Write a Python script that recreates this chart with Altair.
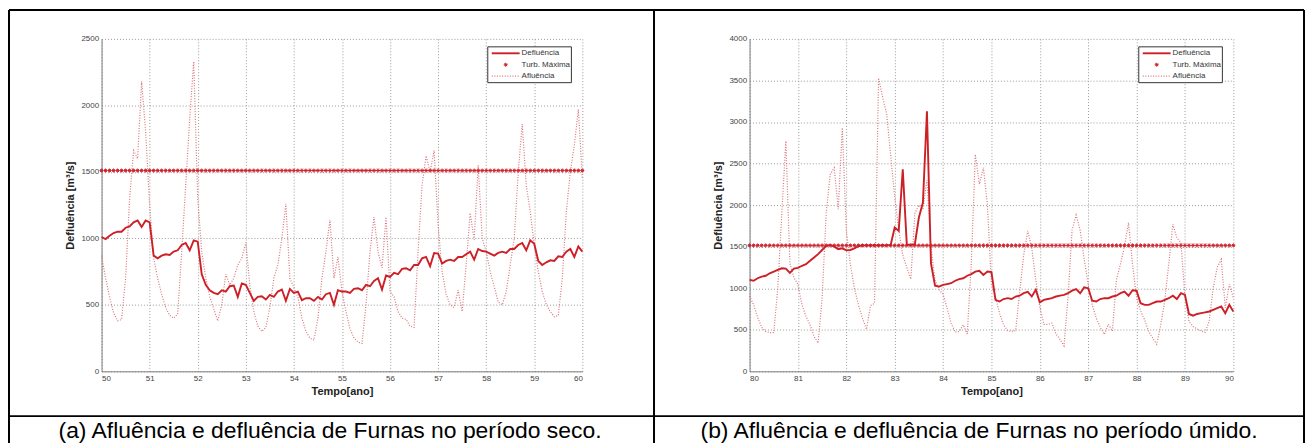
import altair as alt
import pandas as pd

# ---------------- data (monthly samples) ----------------
start_a = 50
defl_a = [1010, 995, 1020, 1040, 1050, 1050, 1080, 1090, 1120, 1135, 1085, 1135, 1120,
          870, 850, 870, 880, 875, 900, 910, 950, 965, 910, 985, 975,
          730, 650, 610, 590, 580, 610, 600, 640, 645, 560, 660, 650,
          590, 530, 560, 565, 540, 575, 560, 600, 615, 530, 620, 590,
          600, 535, 550, 550, 530, 560, 540, 580, 590, 500, 610, 600,
          600, 590, 620, 625, 610, 650, 640, 680, 700, 615, 720, 710,
          740, 730, 770, 775, 760, 800, 800, 850, 860, 790, 890, 885,
          810, 830, 840, 830, 860, 860, 880, 900, 840, 920, 905, 900,
          885, 870, 890, 900, 890, 920, 920, 950, 965, 910, 985, 960,
          830, 800, 820, 835, 830, 865, 860, 900, 920, 860, 940, 900]
aflu_a = [870, 700, 560, 440, 380, 390, 700, 1300, 1660, 1600, 2180, 1800, 1250,
          850, 700, 580, 480, 420, 400, 430, 900, 1400, 1900, 2330, 1300,
          900, 700, 560, 470, 380, 500, 730, 650, 700, 800, 850, 970,
          650, 450, 340, 300, 330, 480, 700, 800, 1000, 1260, 700, 630,
          560, 400, 300, 250, 235, 400, 700, 900, 1140, 700, 860, 600,
          450, 320, 250, 220, 210, 500, 900, 1160, 900, 780, 1160, 600,
          560, 450, 400, 390, 340, 330, 900, 1400, 1620, 1500, 1660, 1100,
          750, 580, 500, 480, 610, 450, 800, 1190, 990, 1550, 1000, 900,
          750, 640, 520, 500, 600, 800, 1000, 1500, 1860, 1400, 1200, 950,
          750, 600, 500, 450, 410, 420, 700, 1200, 1500, 1700, 1970, 1450]
turb_a = 1510

start_b = 80
defl_b = [1100, 1090, 1120, 1140, 1150, 1180, 1200, 1220, 1240, 1235, 1185, 1235, 1245,
          1270, 1290, 1330, 1370, 1410, 1460, 1510, 1520, 1500, 1470, 1480, 1455,
          1460, 1480, 1505, 1515, 1515, 1515, 1515, 1515, 1515, 1515, 1520, 1730,
          1690, 2430, 1525, 1525, 1530, 1850, 2030, 3130, 1300, 1030, 1020, 1040,
          1050, 1060, 1090, 1110, 1120, 1150, 1170, 1200, 1210, 1160, 1200, 1195,
          860, 840, 870, 880, 870, 900, 910, 940, 955, 900, 980, 830,
          860, 870, 880, 900, 910, 920, 940, 970, 990, 940, 1010, 1000,
          850, 840, 870, 880, 880, 900, 910, 940, 960, 910, 975, 970,
          820, 800, 800, 820, 840, 840, 860, 880, 910, 870, 940, 920,
          690, 670, 690, 700, 710, 720, 740, 760, 780, 700, 800, 720]
aflu_b = [906, 800, 650, 530, 480, 465, 465, 1000, 1900, 2770, 1300, 1127, 1047,
          800, 660, 560, 420, 340, 880, 1900, 2370, 2450, 1950, 2930, 1690,
          1290, 1000, 800, 640, 505, 790, 820, 3530, 3300, 3100, 2600, 2100,
          1700, 1400, 1250, 1110, 1900, 2000, 1950, 2300, 1500, 1100, 980, 930,
          760, 580, 470, 480, 560, 450, 1300, 2610, 2250, 2450, 2000, 1050,
          900, 700, 560, 490, 480, 490, 950, 1400, 1690, 1480, 1100, 770,
          565, 565, 580, 450, 385, 305, 900, 1700, 1880, 1700, 1350, 1047,
          800, 640, 530, 445, 565, 485, 1100, 1290, 1500, 1788, 1287, 886,
          726, 620, 480, 400, 325, 560, 850, 1300, 1768, 1608, 1550, 900,
          600, 540, 510, 485, 470, 600, 1000, 1250, 1347, 766, 1047, 886]
turb_b = 1515

series_names = ["Defluência", "Turb. Máxima", "Afluência"]
captions = ["(a) Afluência e defluência de Furnas no período seco.",
            "(b) Afluência e defluência de Furnas no período úmido."]
x_title = "Tempo[ano]"
y_title = "Defluência [m³/s]"

# ---------------- styles ----------------
C_DEFL = "#cc1f26"
C_AFLU = "#d9747a"
C_TURB = "#cf2028"
FONT = "Liberation Sans"
ASTER = "M-1,0L1,0M0,-1L0,1M-0.7,-0.7L0.7,0.7M-0.7,0.7L0.7,-0.7"
H = 334
ONE = pd.DataFrame({"k": [0]})


def rule(x, x2, y, y2, color="black", w=2, dash=None):
    kw = dict(color=color, strokeWidth=w)
    if dash:
        kw["strokeDash"] = dash
    return alt.Chart(ONE).mark_rule(**kw).encode(
        x=alt.value(x), x2=alt.value(x2), y=alt.value(y), y2=alt.value(y2))


def label(txt, x, y, size, align="left", baseline="middle", color="#333"):
    return alt.Chart(ONE).mark_text(font=FONT, fontSize=size, color=color, align=align,
                                    baseline=baseline).encode(
        x=alt.value(x), y=alt.value(y), text=alt.value(txt))


def panel(start, defl, aflu, turb, ymax, W, caption, cap_x, borders):
    t = [start + i / 12 for i in range(len(defl))]
    df = pd.DataFrame({"t": t, "defl": defl, "aflu": aflu, "turb": [turb] * len(t)})
    base = alt.Chart(df)
    xs = alt.Scale(domain=[start, start + 10], nice=False, zero=False)
    ys = alt.Scale(domain=[0, ymax], nice=False)
    xenc = alt.X("t:Q", scale=xs, title=x_title,
                 axis=alt.Axis(values=list(range(start, start + 11)), format="d", title=x_title))
    aflu_l = base.mark_line(color=C_AFLU, strokeWidth=1.2, strokeDash=[1, 1.6]).encode(
        x=xenc,
        y=alt.Y("aflu:Q", scale=ys, title=y_title,
                axis=alt.Axis(values=list(range(0, ymax + 1, 500)), format="d",
                              title=y_title)))
    turb_p = base.mark_point(shape=ASTER, size=16, filled=False, color=C_TURB,
                             strokeWidth=1, opacity=1).encode(
        x=alt.X("t:Q", scale=xs, title=x_title),
        y=alt.Y("turb:Q", scale=ys, title=y_title))
    defl_l = base.mark_line(color=C_DEFL, strokeWidth=1.9).encode(
        x=alt.X("t:Q", scale=xs, title=x_title),
        y=alt.Y("defl:Q", scale=ys, title=y_title))

    # legend box (drawn by hand, inside the plot area)
    rows = [14.5, 26, 37.5]
    leg_box = alt.Chart(ONE).mark_rect(fill="white", stroke="#333", strokeWidth=1).encode(
        x=alt.value(W - 95), x2=alt.value(W - 11), y=alt.value(8), y2=alt.value(44))
    leg_l1 = rule(W - 91, W - 63, rows[0], rows[0], C_DEFL, 1.9)
    leg_p = alt.Chart(ONE).mark_point(shape=ASTER, size=16, filled=False, color=C_TURB,
                                      strokeWidth=1, opacity=1).encode(
        x=alt.value(W - 77), y=alt.value(rows[1]))
    leg_l3 = rule(W - 91, W - 63, rows[2], rows[2], C_AFLU, 1.2, [1, 1.6])
    leg_txt = [label(n, W - 61, r, 8) for n, r in zip(series_names, rows)]

    cap = label(caption, cap_x, 401, 23, align="center", baseline="alphabetic", color="black")

    layers = [aflu_l, turb_p, defl_l, leg_box, leg_l1, leg_p, leg_l3] + leg_txt + [cap]
    for b in borders:
        layers.append(rule(*b))
    return alt.layer(*layers).properties(width=W, height=H)


WA, WB = 483, 486
left = panel(start_a, defl_a, aflu_a, turb_a, 2500, WA, captions[0], 229.5,
             [(-93, -93, -29, 406), (-93, 555, -29, -29), (555, 555, -29, 406),
              (-93, 555, 379, 379)])
right = panel(start_b, defl_b, aflu_b, turb_b, 4000, WB, captions[1], 230.5,
              [(-96, 557, -29, -29), (557, 557, -29, 406), (-96, 557, 379, 379)])

chart = alt.hconcat(left, right, spacing=168, bounds="flush").properties(
    padding=0
).configure_view(stroke=None).configure_axis(
    grid=True, gridColor="#9a9a9a", gridDash=[1, 2], gridWidth=1,
    domainColor="#808080", domainWidth=1, ticks=False,
    labelFont=FONT, labelFontSize=8, labelColor="#444", labelPadding=3,
    titleFont=FONT, titleFontSize=11, titleFontWeight="bold", titleColor="#222",
).configure_axisX(titlePadding=3).configure_axisY(titlePadding=5)

chart.save("out.html", embed_options={"renderer": "svg", "actions": False})
